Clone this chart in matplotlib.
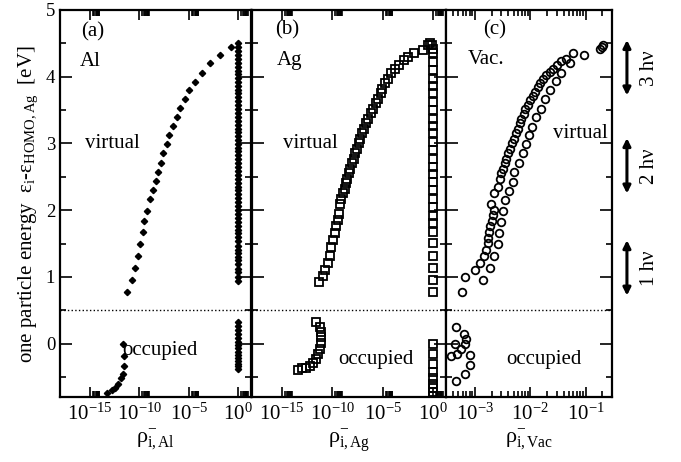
import numpy as np
import matplotlib
matplotlib.use('Agg')
import matplotlib.pyplot as plt
from matplotlib.ticker import FixedLocator, NullFormatter, LogLocator

plt.rcParams['font.family'] = ['Liberation Serif', 'DejaVu Serif']
plt.rcParams['mathtext.fontset'] = 'custom'
plt.rcParams['mathtext.rm'] = 'Liberation Serif'
plt.rcParams['mathtext.it'] = 'Liberation Serif:italic'

# ---- data (x stored as log10 of rho) ----
# (a) Al, smooth branch
al_logx = [-0.7, -1.85, -2.86, -3.70, -4.37, -4.95, -5.38, -5.89, -6.22, -6.63, -6.97,
           -7.23, -7.58, -7.81, -8.08, -8.34, -8.65, -8.92, -9.22, -9.53, -9.66, -9.93,
           -10.16, -10.43, -10.71, -11.21,
           -11.62, -11.52, -11.52, -11.68, -11.88, -12.12, -12.45, -12.79, -13.23]
al_e = [4.44, 4.32, 4.20, 4.06, 3.92, 3.80, 3.66, 3.53, 3.40, 3.26, 3.12,
        2.99, 2.85, 2.71, 2.57, 2.43, 2.30, 2.16, 1.99, 1.84, 1.67, 1.50,
        1.32, 1.14, 0.95, 0.77,
        -0.01, -0.18, -0.33, -0.45, -0.52, -0.60, -0.66, -0.70, -0.74]
# (a) Al, states with rho ~ 1
al_col_rho = 0.9
al_col_e = [4.50, 4.44, 4.38, 4.33, 4.27, 4.21, 4.15, 4.09, 4.04, 3.98, 3.92, 3.86,
            3.80, 3.75, 3.69, 3.63, 3.57, 3.51, 3.46, 3.40, 3.34, 3.28, 3.22, 3.17,
            3.11, 3.05, 2.99, 2.93, 2.88, 2.82, 2.76, 2.70, 2.64, 2.59, 2.53, 2.47,
            2.41, 2.35, 2.30, 2.24, 2.18, 2.12, 2.06, 2.01, 1.95, 1.89, 1.83, 1.77,
            1.71, 1.66, 1.60, 1.54, 1.47, 1.41, 1.36, 1.30, 1.25, 1.20, 1.12, 1.07,
            1.00, 0.94,
            0.32, 0.26, 0.21, 0.15, 0.09, 0.03, -0.02, -0.07, -0.12, -0.17, -0.22,
            -0.26, -0.30, -0.34, -0.38]

# (b) Ag
ag_logx = [-0.1, -0.3, -0.5, -1.0, -1.9, -2.46, -2.9, -3.4, -3.8, -4.2, -4.5, -4.8,
           -5.05, -5.2, -5.5, -5.7, -5.96, -6.2, -6.5, -6.67, -6.9, -7.07, -7.24, -7.4,
           -7.6, -7.75, -7.9, -8.1, -8.26, -8.36, -8.5, -8.66, -8.76, -8.93, -9.1, -9.26,
           -9.34, -9.44, -9.6, -9.77, -9.94, -10.1, -10.27, -10.44, -10.7, -10.95, -11.35,
           -11.62, -11.28, -11.1, -11.1, -11.18, -11.28, -11.45, -11.62, -11.9, -12.2,
           -12.6, -13.0, -13.47]
ag_e = [4.48, 4.50, 4.47, 4.40, 4.36, 4.30, 4.25, 4.18, 4.12, 4.05, 3.97, 3.90,
        3.82, 3.75, 3.67, 3.60, 3.52, 3.45, 3.37, 3.30, 3.22, 3.15, 3.07, 3.00,
        2.92, 2.85, 2.77, 2.70, 2.62, 2.55, 2.47, 2.40, 2.32, 2.25, 2.17, 2.10,
        1.95, 1.86, 1.76, 1.66, 1.56, 1.45, 1.32, 1.21, 1.10, 1.01, 0.92,
        0.32, 0.25, 0.17, 0.10, 0.01, -0.08, -0.15, -0.23, -0.29, -0.33,
        -0.36, -0.37, -0.39]
ag_col_rho = 1.1
ag_col_e = [4.42, 4.35, 4.22, 4.10, 3.97, 3.86, 3.75, 3.62, 3.50, 3.37, 3.26, 3.15,
            3.02, 2.90, 2.77, 2.65, 2.54, 2.42, 2.30, 2.17, 2.05, 1.92, 1.81, 1.67,
            1.51, 1.32, 1.14, 0.95, 0.77,
            0.00, -0.16, -0.31, -0.43, -0.52, -0.60, -0.67, -0.73, -0.78]

# (c) vacuum
vac_logx = [-0.74, -0.69, -0.71, -1.03, -1.23, -1.36, -1.29,
            -1.44, -1.51, -1.59, -1.65, -1.71, -1.77, -1.82, -1.86, -1.91, -1.95, -2.0,
            -2.04, -2.09, -2.12, -2.16, -2.19, -2.23, -2.26, -2.29, -2.33, -2.36, -2.4,
            -2.43, -2.46, -2.49, -2.52, -2.55, -2.59, -2.65, -2.71,
            -1.44, -1.53, -1.65, -1.73, -1.80, -1.89, -1.97, -2.03, -2.08, -2.14, -2.21,
            -2.29, -2.32, -2.38, -2.45,
            -2.65, -2.5, -2.68, -2.7, -2.52, -2.72, -2.74, -2.56, -2.76, -2.77, -2.59,
            -2.8, -2.83, -2.65, -2.91, -3.0, -2.73, -3.18, -2.86, -3.23,
            -3.34, -3.2, -3.17, -3.36, -3.26, -3.18, -3.44, -3.32, -3.09, -3.09, -3.18,
            -3.35]
vac_e = [4.42, 4.47, 4.45, 4.32, 4.35, 4.27, 4.20,
         4.23, 4.18, 4.12, 4.07, 4.02, 3.96, 3.90, 3.84, 3.77, 3.71, 3.65,
         3.57, 3.51, 3.44, 3.37, 3.30, 3.22, 3.15, 3.07, 3.00, 2.92, 2.85,
         2.77, 2.70, 2.62, 2.55, 2.46, 2.35, 2.25, 2.10,
         4.05, 3.94, 3.80, 3.66, 3.52, 3.39, 3.25, 3.12, 2.99, 2.85, 2.71,
         2.57, 2.42, 2.29, 2.15,
         2.01, 1.99, 1.93, 1.84, 1.82, 1.76, 1.67, 1.66, 1.59, 1.51, 1.50,
         1.41, 1.31, 1.32, 1.21, 1.11, 1.13, 1.00, 0.95, 0.77,
         0.25, 0.15, 0.07, -0.01, -0.08, -0.01, -0.19, -0.15, -0.17, -0.32, -0.45,
         -0.56]

fermi_line = 0.5
hv_arrows = [(4.55, 3.72, '3 h\u03bd'), (3.08, 2.25, '2 h\u03bd'), (1.55, 0.72, '1 h\u03bd')]

W, H = 681, 462
fig = plt.figure(figsize=(W / 100, H / 100), dpi=100)


def box(x0, x1):
    return [x0 / W, 1 - 397 / H, (x1 - x0) / W, 387 / H]


ax_a = fig.add_axes(box(60, 251))
ax_b = fig.add_axes(box(252, 446))
ax_c = fig.add_axes(box(446, 612))

for ax in (ax_a, ax_b, ax_c):
    ax.set_xscale('log')
    ax.set_ylim(-0.8, 5)
    ax.set_yticks([0, 1, 2, 3, 4, 5])
    ax.set_yticks([-0.5, 0.5, 1.5, 2.5, 3.5, 4.5], minor=True)
    ax.tick_params(which='both', direction='in', top=True, right=True, width=1.2)
    ax.tick_params(axis='y', which='major', length=8.5, labelsize=13.5)
    ax.tick_params(axis='y', which='minor', length=4.3)
    ax.tick_params(axis='x', which='major', length=7, pad=5, labelsize=15)
    ax.tick_params(axis='x', which='minor', length=4)
    for s in ax.spines.values():
        s.set_linewidth(1.6)
    ax.axhline(fermi_line, color='k', ls=':', lw=1)

for ax in (ax_a, ax_b):
    ax.set_xlim(1e-18, 20)
    ax.xaxis.set_major_locator(FixedLocator([1e-15, 1e-10, 1e-5, 1e0]))
    ax.xaxis.set_minor_locator(FixedLocator([m * 10.0 ** k for k in (-15, -10, -5, 0)
                                             for m in range(2, 10)]))
    ax.xaxis.set_minor_formatter(NullFormatter())

ax_c.set_xlim(3e-4, 0.3)
ax_c.xaxis.set_major_locator(FixedLocator([1e-3, 1e-2, 1e-1]))
ax_c.xaxis.set_minor_locator(LogLocator(base=10, subs=np.arange(2, 10)))
ax_c.xaxis.set_minor_formatter(NullFormatter())

ax_b.tick_params(labelleft=False)
ax_c.tick_params(labelleft=False)

# markers
ax_a.plot(10.0 ** np.array(al_logx), al_e, 'kD', ms=3.2, ls='none')
ax_a.plot([al_col_rho] * len(al_col_e), al_col_e, 'kD', ms=3.2, ls='none')
ax_b.plot(10.0 ** np.array(ag_logx), ag_e, 's', ms=5.2, mfc='none', mec='k', mew=1.3, ls='none')
ax_b.plot([ag_col_rho] * len(ag_col_e), ag_col_e, 's', ms=5.2, mfc='none', mec='k', mew=1.3,
          ls='none')
ax_c.plot(10.0 ** np.array(vac_logx), vac_e, 'o', ms=5.5, mfc='none', mec='k', mew=1.3,
          ls='none')

# labels
fs = 15
ax_a.text(0.11, 0.943, '(a)', transform=ax_a.transAxes, fontsize=fs, va='center')
ax_a.text(0.105, 0.866, 'Al', transform=ax_a.transAxes, fontsize=fs, va='center')
ax_a.text(0.131, 0.656, 'virtual', transform=ax_a.transAxes, fontsize=fs, va='center')
ax_a.text(0.325, 0.121, 'occupied', transform=ax_a.transAxes, fontsize=fs, va='center')

ax_b.text(0.119, 0.948, '(b)', transform=ax_b.transAxes, fontsize=fs, va='center')
ax_b.text(0.127, 0.87, 'Ag', transform=ax_b.transAxes, fontsize=fs, va='center')
ax_b.text(0.161, 0.656, 'virtual', transform=ax_b.transAxes, fontsize=fs, va='center')
ax_b.text(0.445, 0.096, 'occupied', transform=ax_b.transAxes, fontsize=fs, va='center')

ax_c.text(0.221, 0.948, '(c)', transform=ax_c.transAxes, fontsize=fs, va='center')
ax_c.text(0.134, 0.871, 'Vac.', transform=ax_c.transAxes, fontsize=fs, va='center')
ax_c.text(0.976, 0.682, 'virtual', transform=ax_c.transAxes, fontsize=fs, va='center',
          ha='right')
ax_c.text(0.365, 0.096, 'occupied', transform=ax_c.transAxes, fontsize=fs, va='center')

ax_a.set_xlabel(r'$\mathrm{\rho}^{-}_{\mathrm{i,Al}}$', fontsize=16, labelpad=2)
ax_b.set_xlabel(r'$\mathrm{\rho}^{-}_{\mathrm{i,Ag}}$', fontsize=16, labelpad=2)
ax_c.set_xlabel(r'$\mathrm{\rho}^{-}_{\mathrm{i,Vac}}$', fontsize=16, labelpad=2)

fig.text(28 / W, 1 - 204 / H,
         r'one particle energy  $\mathrm{\varepsilon_i}$-$\mathrm{\varepsilon_{HOMO,Ag}}$  [eV]',
         rotation=90, fontsize=fs, ha='center', va='center')

# photon energy arrows
for top, bot, lab in hv_arrows:
    ax_c.annotate('', xy=(1.09, top), xytext=(1.09, bot),
                  xycoords=('axes fraction', 'data'), textcoords=('axes fraction', 'data'),
                  arrowprops=dict(arrowstyle='<|-|>', lw=2.2, color='k', mutation_scale=11,
                                  shrinkA=0, shrinkB=0), annotation_clip=False)
    ax_c.text(1.225, (top + bot) / 2, lab, transform=ax_c.get_yaxis_transform(),
              rotation=90, fontsize=fs, ha='center', va='center', clip_on=False)

fig.savefig('out.png', dpi=100)
